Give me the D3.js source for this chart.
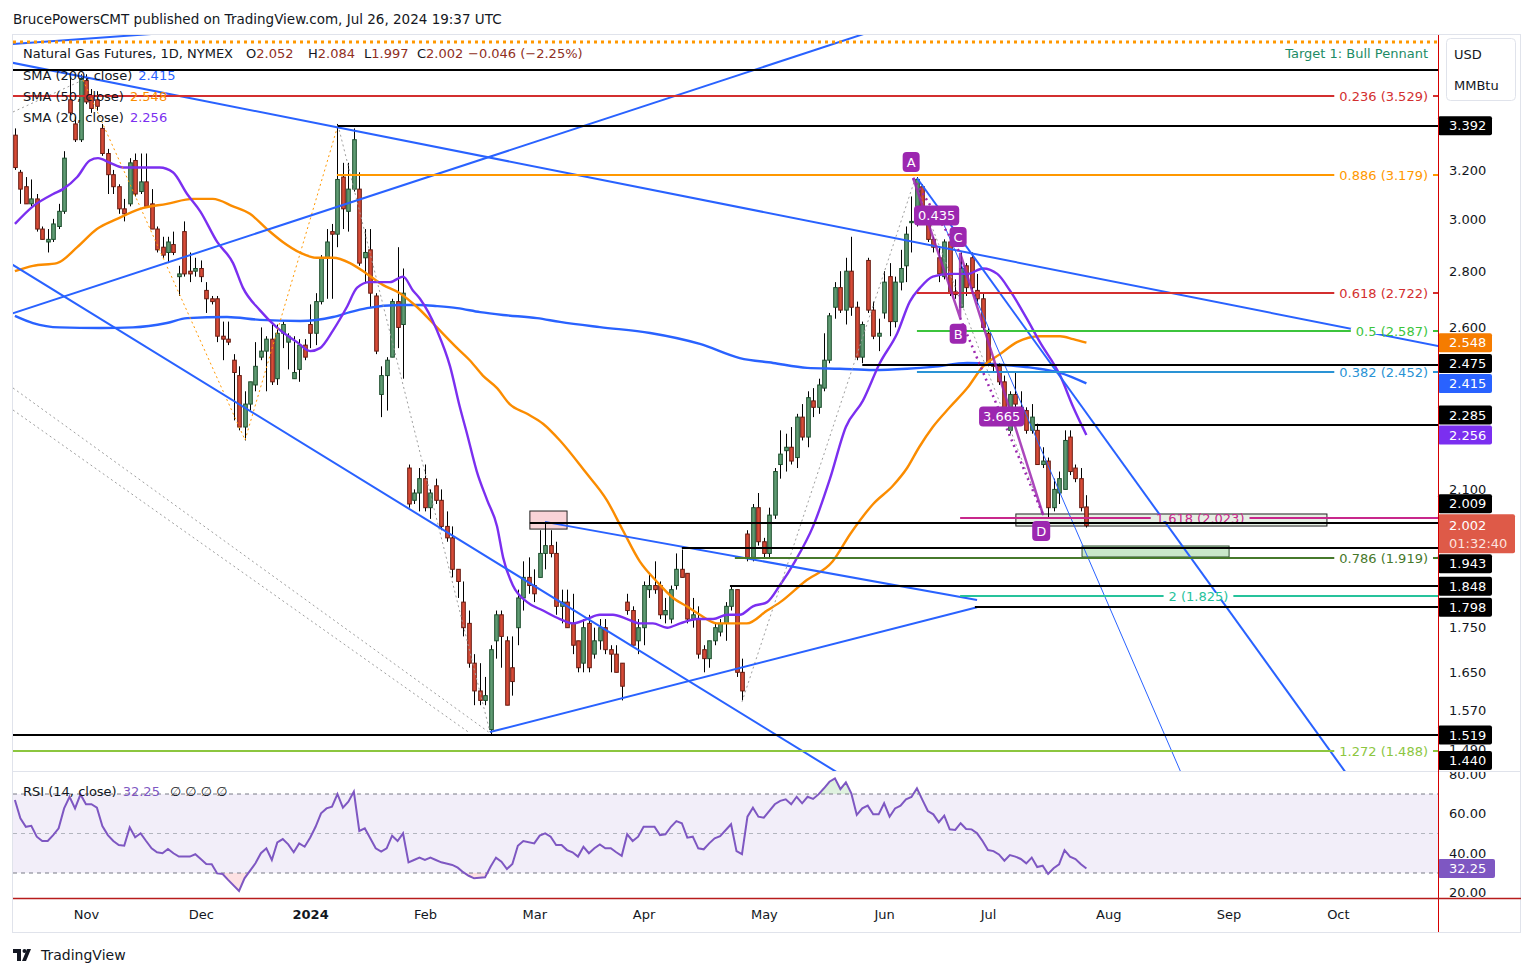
<!DOCTYPE html>
<html>
<head>
<meta charset="utf-8">
<script src="https://cdn.jsdelivr.net/npm/d3@7"></script>
<style>
  body { margin: 0; background: #fff; }
  svg text { font-family: 'DejaVu Sans', sans-serif; }
</style>
</head>
<body>
<div id="chart"></div>
<script>
// ---- data ----
const firstBarDate = "2023-10-13";
const lastAxisDate = "2024-10-31";
const holidays = ["2023-11-23", "2023-12-25", "2024-01-01", "2024-01-15", "2024-02-19",
  "2024-03-29", "2024-05-27", "2024-06-19", "2024-07-04", "2024-09-02"];

// daily candles [open, high, low, close]
const ohlc = [
  [3.35,3.38,3.20,3.21],[3.19,3.20,3.06,3.12],[3.13,3.17,3.06,3.06],[3.06,3.16,3.05,3.08],[3.08,3.10,2.95,2.96],
  [2.96,2.97,2.92,2.92],[2.91,2.96,2.87,2.92],[2.92,3.00,2.91,2.98],[2.97,3.06,2.96,3.03],[3.03,3.28,3.02,3.25],
  [3.51,3.62,3.44,3.45],[3.40,3.43,3.32,3.33],[3.33,3.63,3.32,3.61],[3.60,3.63,3.49,3.50],[3.53,3.56,3.45,3.47],
  [3.51,3.55,3.46,3.48],[3.38,3.40,3.26,3.27],[3.27,3.29,3.10,3.18],[3.18,3.20,3.10,3.13],[3.13,3.14,3.02,3.04],
  [3.04,3.08,2.99,3.02],[3.06,3.25,3.05,3.23],[3.24,3.27,3.09,3.10],[3.11,3.27,3.10,3.15],[3.15,3.27,3.05,3.05],
  [3.06,3.12,2.96,2.96],[2.96,2.97,2.87,2.88],[2.89,2.93,2.85,2.86],[2.87,2.93,2.83,2.91],[2.90,2.95,2.86,2.87],
  [2.78,2.82,2.71,2.79],[2.95,2.99,2.78,2.79],[2.80,2.87,2.76,2.79],[2.80,2.85,2.78,2.81],[2.81,2.84,2.76,2.78],
  [2.73,2.76,2.65,2.70],[2.70,2.71,2.68,2.69],[2.70,2.71,2.55,2.57],[2.57,2.62,2.49,2.56],[2.56,2.62,2.54,2.55],
  [2.49,2.51,2.30,2.45],[2.44,2.47,2.27,2.28],[2.28,2.39,2.24,2.35],[2.35,2.42,2.33,2.42],[2.41,2.55,2.39,2.47],
  [2.50,2.60,2.49,2.52],[2.52,2.57,2.39,2.56],[2.56,2.61,2.41,2.42],[2.43,2.61,2.41,2.58],[2.58,2.62,2.53,2.61],
  [2.55,2.58,2.46,2.57],[2.43,2.57,2.43,2.45],[2.46,2.56,2.42,2.54],[2.54,2.56,2.49,2.50],[2.61,2.68,2.53,2.58],
  [2.58,2.72,2.54,2.69],[2.69,2.86,2.68,2.85],[2.85,2.96,2.70,2.91],[2.95,2.98,2.70,2.94],[2.94,3.40,2.89,3.16],
  [3.17,3.23,2.96,3.04],[3.03,3.23,2.95,3.12],[3.12,3.38,3.11,3.33],[3.12,3.19,2.82,2.83],[2.85,2.96,2.76,2.87],
  [2.88,2.96,2.67,2.72],[2.71,2.72,2.51,2.52],[2.38,2.47,2.31,2.44],[2.44,2.50,2.33,2.49],[2.50,2.70,2.50,2.69],
  [2.69,2.89,2.53,2.60],[2.61,2.81,2.43,2.72],[2.16,2.17,2.05,2.06],[2.07,2.10,2.06,2.09],[2.09,2.16,2.04,2.13],
  [2.13,2.17,2.04,2.05],[2.05,2.10,2.02,2.09],[2.11,2.13,2.06,2.07],[2.07,2.10,1.99,2.00],[2.00,2.04,1.96,1.97],
  [1.97,2.00,1.87,1.89],[1.89,1.89,1.82,1.86],[1.81,1.86,1.73,1.75],[1.76,1.79,1.66,1.67],[1.67,1.69,1.58,1.61],
  [1.61,1.67,1.58,1.59],[1.59,1.64,1.58,1.60],[1.53,1.71,1.52,1.70],[1.72,1.79,1.68,1.78],[1.78,1.79,1.66,1.73],
  [1.72,1.73,1.58,1.58],[1.66,1.73,1.60,1.63],[1.75,1.84,1.71,1.82],[1.82,1.91,1.79,1.87],[1.87,1.92,1.83,1.85],
  [1.85,1.89,1.81,1.83],[1.87,1.99,1.87,1.93],[1.93,2.01,1.89,1.95],[1.95,1.99,1.92,1.93],[1.93,1.96,1.78,1.80],
  [1.80,1.84,1.76,1.81],[1.81,1.84,1.75,1.75],[1.76,1.83,1.69,1.71],[1.72,1.72,1.65,1.66],[1.67,1.77,1.65,1.75],
  [1.76,1.78,1.65,1.66],[1.69,1.75,1.68,1.72],[1.72,1.77,1.70,1.75],[1.75,1.77,1.69,1.70],[1.70,1.71,1.65,1.69],
  [1.69,1.71,1.65,1.65],[1.67,1.67,1.59,1.62],[1.81,1.83,1.78,1.79],[1.79,1.80,1.71,1.71],[1.72,1.77,1.69,1.75],
  [1.75,1.86,1.71,1.85],[1.84,1.88,1.82,1.85],[1.85,1.91,1.83,1.84],[1.85,1.86,1.77,1.78],[1.78,1.82,1.76,1.79],
  [1.77,1.85,1.76,1.84],[1.85,1.93,1.84,1.89],[1.89,1.94,1.87,1.87],[1.88,1.88,1.76,1.77],[1.77,1.82,1.75,1.78],
  [1.77,1.80,1.68,1.69],[1.70,1.71,1.65,1.68],[1.68,1.72,1.66,1.72],[1.72,1.76,1.71,1.75],[1.74,1.77,1.73,1.76],
  [1.76,1.81,1.72,1.80],[1.80,1.85,1.79,1.84],[1.84,1.84,1.64,1.65],[1.65,1.68,1.59,1.61],[1.98,1.99,1.91,1.92],
  [1.92,2.06,1.91,2.05],[2.05,2.09,1.95,1.96],[1.96,1.97,1.92,1.93],[1.93,2.05,1.92,2.03],[2.03,2.16,2.02,2.15],
  [2.17,2.27,2.13,2.20],[2.21,2.26,2.15,2.22],[2.22,2.28,2.17,2.18],[2.19,2.32,2.16,2.31],[2.31,2.35,2.24,2.25],
  [2.25,2.39,2.22,2.37],[2.36,2.40,2.31,2.34],[2.34,2.43,2.32,2.41],[2.40,2.58,2.39,2.49],[2.49,2.65,2.48,2.64],
  [2.67,2.76,2.63,2.74],[2.74,2.80,2.65,2.66],[2.66,2.85,2.61,2.80],[2.80,2.93,2.64,2.67],[2.67,2.69,2.49,2.50],
  [2.50,2.62,2.48,2.61],[2.84,2.85,2.65,2.66],[2.66,2.69,2.56,2.57],[2.57,2.63,2.52,2.58],[2.65,2.80,2.63,2.76],
  [2.78,2.83,2.57,2.62],[2.62,2.78,2.60,2.76],[2.76,2.88,2.73,2.81],[2.82,2.97,2.76,2.94],[2.985,3.09,2.87,2.99],
  [2.98,3.17,2.97,3.16],[3.13,3.14,3.02,3.03],[3.03,3.04,2.91,2.92],[2.92,2.93,2.87,2.89],[2.85,2.89,2.76,2.79],
  [2.78,2.92,2.77,2.91],[2.91,2.95,2.71,2.72],[2.725,2.77,2.70,2.715],[2.67,2.87,2.67,2.81],[2.82,2.83,2.71,2.74],
  [2.85,2.87,2.72,2.74],[2.73,2.79,2.68,2.70],[2.70,2.72,2.59,2.60],[2.58,2.60,2.47,2.48],[2.48,2.48,2.45,2.47],
  [2.47,2.48,2.41,2.42],[2.42,2.44,2.32,2.33],[2.27,2.39,2.26,2.38],[2.38,2.45,2.34,2.35],[2.34,2.39,2.32,2.33],
  [2.33,2.34,2.26,2.27],[2.27,2.35,2.26,2.31],[2.27,2.29,2.17,2.17],[2.17,2.22,2.16,2.18],[2.18,2.19,2.02,2.05],
  [2.05,2.13,2.04,2.10],[2.09,2.15,2.06,2.13],[2.10,2.27,2.10,2.24],[2.25,2.27,2.14,2.15],[2.16,2.17,2.12,2.13],
  [2.13,2.16,2.04,2.05],[2.052,2.084,1.997,2.002]
];
const lastChange = -0.046;
const lastChangePct = -2.25;

// moving averages, [bar index, value] read at points along each curve
const sma20 = [[0,2.98],[3.3,3.05],[7,3.10],[8.8,3.12],[11.4,3.17],[13.7,3.24],[15.2,3.25],[17.4,3.23],[19.8,3.21],
  [23.4,3.21],[26.5,3.21],[28.9,3.19],[31.5,3.10],[33.9,3.03],[37,2.91],[39.9,2.83],[41.7,2.74],[44.8,2.66],
  [47.9,2.60],[51.6,2.55],[54,2.52],[55.8,2.53],[58.2,2.59],[60.7,2.67],[62.6,2.74],[64.9,2.76],[68.6,2.76],
  [71,2.78],[72.8,2.73],[74.1,2.70],[77.2,2.59],[79.6,2.47],[81.4,2.34],[82.7,2.26],[84.5,2.15],[86.4,2.07],
  [88.2,2.00],[89.3,1.92],[91.1,1.85],[93.7,1.81],[96.6,1.79],[99.7,1.77],[102.1,1.76],[104.6,1.77],[107,1.78],
  [109.4,1.78],[112,1.77],[114.3,1.76],[116.7,1.76],[119.3,1.75],[121.7,1.76],[124.8,1.77],[127.7,1.77],
  [130.3,1.78],[132.6,1.78],[135,1.80],[137.6,1.81],[139.9,1.85],[142.7,1.91],[146,2.00],[149.1,2.13],[152,2.28],
  [155.1,2.36],[158.2,2.48],[161.4,2.58],[163.7,2.69],[165.6,2.74],[167.9,2.78],[171,2.79],[174.2,2.79],
  [177.1,2.81],[179.7,2.79],[182,2.73],[185.1,2.63],[187.5,2.55],[191.2,2.44],[193.6,2.34],[196,2.256]];
const sma50 = [[0,2.80],[3.3,2.82],[7.7,2.83],[11.4,2.89],[15,2.96],[18.7,3.00],[22.9,3.04],[27.8,3.06],[32.6,3.08],
  [36.2,3.08],[39.9,3.05],[43,3.02],[46.1,2.96],[49,2.91],[52.1,2.87],[55.2,2.85],[58.2,2.85],[61.3,2.83],
  [64.4,2.79],[67.3,2.75],[70.4,2.72],[73.6,2.67],[77.2,2.60],[80.9,2.53],[83.2,2.49],[85.6,2.44],[88.2,2.40],
  [90.5,2.35],[93.7,2.32],[96.6,2.29],[99.7,2.24],[104.3,2.15],[108.3,2.07],[111.2,1.99],[114.3,1.91],
  [117.4,1.86],[120.4,1.82],[122.9,1.80],[125.3,1.78],[128.4,1.76],[131.4,1.76],[133.9,1.76],[137.6,1.79],
  [140,1.81],[144.5,1.86],[149.6,1.91],[152.8,1.98],[157,2.06],[160.6,2.11],[163.2,2.16],[165.4,2.22],
  [167.9,2.28],[171,2.34],[174.2,2.40],[177.1,2.47],[180.2,2.51],[183.3,2.55],[187.5,2.57],[191.2,2.57],
  [193.6,2.56],[196,2.548]];
const sma200 = [[0,2.64],[3.3,2.615],[8.2,2.60],[15.6,2.598],[21.6,2.60],[27.8,2.615],[31.5,2.632],[38.8,2.636],
  [44.8,2.626],[52.2,2.622],[58.2,2.636],[61.3,2.653],[64.4,2.667],[70.4,2.678],[74.1,2.678],[77.2,2.674],
  [80.9,2.667],[85.1,2.653],[89.3,2.643],[95.5,2.632],[99.7,2.619],[107,2.601],[116.2,2.581],[125.3,2.544],
  [132.6,2.497],[138.7,2.481],[144.9,2.465],[150.9,2.462],[157,2.458],[163.2,2.462],[167.9,2.468],
  [174.2,2.481],[180.2,2.475],[186.2,2.465],[191.2,2.449],[196,2.415]];

// RSI(14) [bar index, value]
const rsi = [[0,67],[1,57.7],[2,53.4],[3,53.9],[4,48.4],[5,46.2],[6,46.2],[7,49.2],[8,52.6],[9,62.7],[10,68.6],
  [11,62.7],[12,69.8],[13,64.8],[14,64.8],[15,63.1],[16,53.8],[17,49.2],[18,46.2],[19,44.2],[20,43.8],[21,53.1],
  [22,48.1],[23,50.1],[24,46.2],[25,42.5],[26,40.5],[27,40.0],[28,42.2],[29,40.0],[30,38.3],[31,38.3],[32,38.3],
  [33,39.5],[34,37.1],[35,34.6],[36,34.4],[37,29.8],[38,29.5],[39,26.5],[41,20.9],[42,27.3],[44,34.9],[45,40.0],
  [46,42.5],[47,36.6],[48,45.5],[49,47.2],[50,44.5],[51,40.5],[52,45.0],[53,43.3],[54,47.9],[55,53.4],[56,60.2],
  [57,62.7],[58,63.6],[59,70.0],[60,63.1],[61,66.1],[62,71.2],[63,51.3],[64,52.6],[65,47.6],[66,42.5],[67,40.8],
  [68,42.5],[69,48.9],[70,46.2],[71,50.1],[72,35.4],[73,36.6],[74,37.8],[75,36.6],[76,37.8],[77,36.6],[78,35.4],
  [80,34.1],[81,32.7],[82,30.4],[83,28.6],[84,27.3],[86,27.8],[87,33.2],[88,37.8],[89,35.7],[90,32.0],[91,34.6],
  [92,43.8],[93,46.2],[95,45.0],[96,48.9],[97,50.1],[98,48.4],[99,44.2],[100,44.2],[101,41.6],[102,40.5],
  [103,38.3],[104,43.3],[105,40.0],[106,42.5],[107,44.5],[108,42.5],[109,42.5],[110,40.5],[111,38.7],[112,49.6],
  [113,46.2],[114,48.4],[115,53.4],[117,53.4],[118,49.2],[119,49.6],[120,53.4],[121,56.3],[122,55.2],[123,47.9],
  [124,48.4],[125,42.5],[126,42.0],[127,45.0],[128,47.6],[129,48.7],[131,54.7],[132,41.1],[133,39.5],[134,58.5],
  [135,63.1],[136,58.5],[137,58.0],[139,64.8],[140,66.5],[141,67.3],[142,64.8],[143,68.6],[144,65.3],[145,68.6],
  [146,67.5],[147,69.8],[148,72.9],[149,76.2],[150,77.9],[151,72.5],[152,75.9],[153,70.3],[154,59.4],[155,62.7],
  [156,64.1],[157,59.7],[158,59.7],[159,65.3],[160,58.5],[161,62.7],[162,64.1],[163,67.3],[164,68.5],[165,72.9],
  [166,67.0],[167,61.4],[168,59.7],[169,55.7],[170,59.0],[171,52.1],[172,51.8],[173,55.2],[174,52.3],[175,52.1],
  [176,50.1],[177,46.2],[178,41.6],[179,41.1],[180,39.4],[181,36.2],[182,39.1],[183,38.3],[184,37.1],[185,34.9],
  [186,37.8],[187,33.0],[188,33.7],[189,29.5],[190,32.4],[191,34.4],[192,41.6],[193,38.3],[194,37.1],[195,34.4],
  [196,32.25]];

// price axis ticks (the ones not hidden behind label boxes) and boxed labels
const priceTicks = [3.2, 3.0, 2.8, 2.6, 2.1, 1.75, 1.65, 1.57, 1.49];
const boxPrices = [3.392, 2.548, 2.475, 2.415, 2.285, 2.256, 2.009, 1.943, 1.848, 1.798, 1.519, 1.440];
const boxKinds  = ["line", "sma50", "line", "sma200", "line", "sma20", "line", "line", "line", "line", "line", "line"];
const lastPrice = 2.002;
const countdown = "01:32:40";
const rsiTicks = [80, 60, 40, 20];
const rsiLast = 32.25;

// horizontal levels: price, first bar index (null = whole pane), kind, label
const levelPrice = [3.788, 3.65, 3.529, 3.392, 3.179, 2.722, 2.587, 2.475, 2.452, 2.285, 2.023, 2.009, 1.943, 1.919, 1.848, 1.825, 1.798, 1.519, 1.488];
const levelFrom  = [null, null, null, 59.1, 58.9, 165, 165, 155, 165, 186.6, 172.9, 94.2, 122, 131.7, 130.8, 172.9, 175.6, null, null];
const levelKind  = ["target", "line", "f236", "line", "f886", "f618", "f5", "line", "f382", "line", "f1618", "line", "line", "f786", "line", "f2", "line", "line", "f1272"];
const levelLabel = ["Target 1: Bull Pennant", "", "0.236 (3.529)", "", "0.886 (3.179)", "0.618 (2.722)", "0.5 (2.587)", "",
  "0.382 (2.452)", "", "1.618 (2.023)", "", "", "0.786 (1.919)", "", "2 (1.825)", "", "", "1.272 (1.488)"];
const levelLabelAt = [null, null, null, null, null, null, null, null, null, null, 216.8, null, null, null, null, 216.5, null, null, null];

// trend lines: two anchors [bar index, price] and how they extend
const trendFrom = [[-0.35,2.649],[-0.35,3.685],[-0.35,3.778],[-0.35,2.823],[86.9,1.525],[96.96,2.012],[165,3.166],[169.8,2.984]];
const trendTo   = [[154.7,3.823],[260.3,2.537],[27.45,3.833],[150,1.4487],[176,1.798],[176,1.815],[243.1,1.4506],[213.1,1.4506]];
const trendExtend = ["both", "both", "both", "both", "none", "none", "right", "right"];
const trendThin = [false, false, false, false, false, false, false, true];

// dotted swing connectors
const grayDots = [[[-0.35,3.454],[12.46,3.603]], [[59.1,3.395],[86.9,1.525]], [[133,1.587],[164.6,3.158]],
  [[164.3,3.166],[188.1,2.030]], [[-0.35,2.4005],[86.9,1.5231]], [[-0.35,2.3318],[83.2,1.5231]]];
const orangeDots = [[[12.46,3.603],[42.1,2.2413]], [[42.1,2.2413],[59.1,3.395]]];

// ABCD pattern
const abcdName = ["A", "B", "C", "D"];
const abcdPts = [[164.3,3.166],[172.9,2.633],[172.9,2.868],[188.1,2.030]];
const abcdRatios = ["0.435", "3.665"];

// zones [fromIdx, toIdx, top price, bottom price]
const zones = [[94.2,101,2.041,1.993],[183.1,240,2.033,2.001],[195.2,222.1,1.949,1.921]];
const zoneKind = ["pink", "grey", "green"];

// ---- layout ----
const W = 1533, H = 977;
const L = 13, R = 1438, PT = 35, PB = 771, RT = 772, RB = 898, AB = 932;
const FONT = "'DejaVu Sans', sans-serif";
const C = {
  up: "#5f9b73", upB: "#1b4d2b", dn: "#d74b37", dnB: "#661a0f",
  sma20: "#7b2ff0", sma50: "#fb8c00", sma200: "#2962ff", rsi: "#7e57c2",
  trend: "#2962ff", purple: "#9c27b0", red: "#de5a48", text: "#131722"
};
const levelStyle = {
  target: { c: "#ff9800", w: 3, dash: "3,4", text: "#1c8b65" },
  line: { c: "#000", w: 2 },
  f236: { c: "#d32f2f", w: 2 }, f886: { c: "#ff9800", w: 2 }, f618: { c: "#d32f2f", w: 2 },
  f5: { c: "#3cc43c", w: 2 }, f382: { c: "#2a93d5", w: 2 }, f1618: { c: "#c8288c", w: 2 },
  f786: { c: "#46782b", w: 2 }, f2: { c: "#26c29b", w: 2 }, f1272: { c: "#8cc63f", w: 2 }
};
const boxColor = { line: "#000", sma50: "#f57c00", sma200: "#2962ff", sma20: "#7b2ff0" };

// trading calendar for the time axis
const hol = new Set(holidays);
const fmtDay = d3.utcFormat("%Y-%m-%d");
const days = d3.utcDay.range(new Date(firstBarDate + "T00:00:00Z"), d3.utcDay.offset(new Date(lastAxisDate + "T00:00:00Z"), 1))
  .filter(d => d.getUTCDay() % 6 !== 0 && !hol.has(fmtDay(d)));
const monthIdx = days.map((d, i) => i).filter(i => i > 0 && days[i].getUTCMonth() !== days[i - 1].getUTCMonth());

const x = d3.scaleLinear().domain([0, ohlc.length - 1]).range([14.9, 1086.4]);
const y = d3.scaleLog().domain([1.4487, 3.823]).range([PB, PT]);
const yR = d3.scaleLinear().domain([20, 80]).range([892.75, 774.25]);

const svg = d3.select("#chart").append("svg").attr("width", W).attr("height", H).style("font-family", FONT);
svg.append("rect").attr("width", W).attr("height", H).attr("fill", "#fff");
const defs = svg.append("defs");
defs.append("clipPath").attr("id", "clipP").append("rect").attr("x", L).attr("y", PT).attr("width", R - L).attr("height", PB - PT);
defs.append("clipPath").attr("id", "clipR").append("rect").attr("x", L).attr("y", RT).attr("width", R - L).attr("height", RB - RT);
defs.append("clipPath").attr("id", "clipOB").append("rect").attr("x", L).attr("y", RT).attr("width", R - L).attr("height", yR(70) - RT);
defs.append("clipPath").attr("id", "clipOS").append("rect").attr("x", L).attr("y", yR(30)).attr("width", R - L).attr("height", RB - yR(30));
defs.append("clipPath").attr("id", "clipRA").append("rect").attr("x", R).attr("y", RT).attr("width", 90).attr("height", RB - RT);

// header
svg.append("text").attr("x", 13).attr("y", 24).attr("font-size", 13.5).attr("fill", C.text)
  .text("BrucePowersCMT published on TradingView.com, Jul 26, 2024 19:37 UTC");

// frame
svg.append("rect").attr("x", 12.5).attr("y", 34.5).attr("width", 1508).attr("height", 898)
  .attr("fill", "none").attr("stroke", "#e0e3eb");
svg.append("line").attr("x1", L).attr("x2", 1521).attr("y1", 771.5).attr("y2", 771.5).attr("stroke", "#e0e3eb");

// ---- price pane ----
const gP = svg.append("g").attr("clip-path", "url(#clipP)");
const px = d => x(d[0]), py = d => y(d[1]);

// zones
const zoneStyle = { pink: ["#f9d3d7", "#222"], grey: ["#e6efe4", "#222"], green: ["#c9e7c9", "#2e4d2e"] };
zones.forEach((z, i) => {
  gP.append("rect").attr("x", x(z[0])).attr("y", y(z[2])).attr("width", x(z[1]) - x(z[0])).attr("height", y(z[3]) - y(z[2]))
    .attr("fill", zoneStyle[zoneKind[i]][0]).attr("stroke", zoneStyle[zoneKind[i]][1]).attr("stroke-width", 1);
});

// candles
const cg = gP.append("g");
ohlc.forEach((d, i) => {
  const up = d[3] >= d[0];
  const cx = Math.round(x(i)) + 0.5;
  cg.append("line").attr("x1", cx).attr("x2", cx).attr("y1", y(d[1])).attr("y2", y(d[2])).attr("stroke", "#000").attr("stroke-width", 1);
  const top = y(Math.max(d[0], d[3])), bot = y(Math.min(d[0], d[3]));
  cg.append("rect").attr("x", cx - 1.8).attr("y", top).attr("width", 3.6).attr("height", Math.max(1, bot - top))
    .attr("fill", up ? C.up : C.dn).attr("stroke", up ? C.upB : C.dnB).attr("stroke-width", 1);
});

// moving averages
const maLine = d3.line().x(px).y(py).curve(d3.curveMonotoneX);
[[sma200, C.sma200], [sma50, C.sma50], [sma20, C.sma20]].forEach(([s, c]) => {
  gP.append("path").attr("d", maLine(s)).attr("fill", "none").attr("stroke", c).attr("stroke-width", 2.4);
});

// dotted connectors
const seg = d3.line().x(px).y(py);
grayDots.forEach(s => gP.append("path").attr("d", seg(s)).attr("fill", "none").attr("stroke", "#9e9e9e").attr("stroke-width", 1).attr("stroke-dasharray", "2,3"));
orangeDots.forEach(s => gP.append("path").attr("d", seg(s)).attr("fill", "none").attr("stroke", "#ff9800").attr("stroke-width", 1).attr("stroke-dasharray", "2,3"));

// trend lines
trendFrom.forEach((a, i) => {
  const b = trendTo[i];
  let x1 = x(a[0]), y1 = y(a[1]), x2 = x(b[0]), y2 = y(b[1]);
  const dx = x2 - x1, dy = y2 - y1;
  const t0 = trendExtend[i] === "both" ? -20 : 0, t1 = trendExtend[i] === "none" ? 1 : 20;
  gP.append("line").attr("x1", x1 + dx * t0).attr("y1", y1 + dy * t0).attr("x2", x1 + dx * t1).attr("y2", y1 + dy * t1)
    .attr("stroke", C.trend).attr("stroke-width", trendThin[i] ? 1 : 2);
});

// horizontal levels
const gLv = svg.append("g");
levelPrice.forEach((p, i) => {
  const st = levelStyle[levelKind[i]];
  const yy = Math.round(y(p));
  const x0 = levelFrom[i] === null ? L : x(levelFrom[i]);
  gLv.append("line").attr("x1", x0).attr("x2", R).attr("y1", yy).attr("y2", yy)
    .attr("stroke", st.c).attr("stroke-width", st.w).attr("stroke-dasharray", st.dash || null);
  if (!levelLabel[i]) return;
  if (levelKind[i] === "target") {
    gLv.append("text").attr("x", 1428).attr("y", yy + 16).attr("text-anchor", "end").attr("font-size", 13)
      .attr("fill", st.text).text(levelLabel[i]);
    return;
  }
  const t = gLv.append("text").attr("y", yy).attr("dy", "0.35em").attr("font-size", 13).attr("fill", st.c).text(levelLabel[i]);
  if (levelLabelAt[i] === null) t.attr("x", 1428).attr("text-anchor", "end");
  else t.attr("x", x(levelLabelAt[i])).attr("text-anchor", "middle");
  const bb = t.node().getBBox();
  gLv.insert("rect", () => t.node()).attr("x", bb.x - 5).attr("y", yy - 3).attr("width", bb.width + 10).attr("height", 6)
    .attr("fill", levelKind[i] === "f1618" ? "#e6efe4" : "#fff");
});

// ABCD pattern
const gA = svg.append("g");
const ab = abcdPts.map(d => [x(d[0]), y(d[1])]);
gA.append("path").attr("d", d3.line()(ab)).attr("fill", "none").attr("stroke", C.purple).attr("stroke-width", 2.5).attr("opacity", 0.85);
[[0, 2], [1, 3]].forEach(([a, b]) => {
  gA.append("line").attr("x1", ab[a][0]).attr("y1", ab[a][1]).attr("x2", ab[b][0]).attr("y2", ab[b][1])
    .attr("stroke", C.purple).attr("stroke-width", 2.5).attr("stroke-dasharray", "2,4");
});
function tag(cx, cy, txt) {
  const t = gA.append("text").attr("x", cx).attr("y", cy).attr("dy", "0.36em").attr("text-anchor", "middle")
    .attr("font-size", 13).attr("fill", "#fff").text(txt);
  const bb = t.node().getBBox();
  gA.insert("rect", () => t.node()).attr("x", bb.x - 4).attr("y", cy - 10).attr("width", bb.width + 8).attr("height", 20)
    .attr("rx", 4).attr("fill", C.purple);
}
abcdName.forEach((n, i) => tag(ab[i][0] - 2, ab[i][1] + (i % 2 === 0 ? -16 : 16), n));
tag((ab[0][0] + ab[2][0]) / 2, (ab[0][1] + ab[2][1]) / 2, abcdRatios[0]);
tag((ab[1][0] + ab[3][0]) / 2, (ab[1][1] + ab[3][1]) / 2, abcdRatios[1]);

// legend
const lg = svg.append("g").attr("font-size", 13);
const leg1 = lg.append("text").attr("x", 23).attr("y", 58).attr("fill", C.text);
leg1.append("tspan").text("Natural Gas Futures, 1D, NYMEX");
const last = ohlc[ohlc.length - 1];
const valC = "#8f2f23";
[["O", last[0], 246], ["H", last[1], 308], ["L", last[2], 364], ["C", last[3], 417]].forEach(([k, v, xx]) => {
  leg1.append("tspan").attr("x", xx).attr("fill", C.text).text(k);
  leg1.append("tspan").attr("fill", valC).text(v.toFixed(3));
});
const minus = v => (v < 0 ? "\u2212" : "+") + Math.abs(v);
leg1.append("tspan").attr("x", 468).attr("fill", valC)
  .text(minus(lastChange).replace(/(\d)$/, "$1") + " (" + minus(lastChangePct) + "%)");
[["SMA (200, close)", sma200, C.sma200, 80], ["SMA (50, close)", sma50, C.sma50, 101], ["SMA (20, close)", sma20, C.sma20, 122]]
  .forEach(([n, s, c, yy]) => {
    const t = lg.append("text").attr("x", 23).attr("y", yy).attr("fill", C.text);
    t.append("tspan").text(n);
    t.append("tspan").attr("dx", 6).attr("fill", c).text(s[s.length - 1][1].toFixed(3));
  });

// ---- price axis ----
const gAx = svg.append("g").attr("transform", `translate(${R},0)`)
  .call(d3.axisRight(y).tickValues(priceTicks).tickFormat(d3.format(".3f")).tickSize(0).tickPadding(11));
gAx.select(".domain").remove();
gAx.selectAll("text").attr("font-size", 13).attr("fill", C.text).attr("font-family", FONT);

// USD box
svg.append("rect").attr("x", 1446.5).attr("y", 38.5).attr("width", 69).attr("height", 62).attr("rx", 4)
  .attr("fill", "#fff").attr("stroke", "#e0e3eb");
svg.append("text").attr("x", 1454).attr("y", 59).attr("font-size", 13).attr("fill", C.text).text("USD");
svg.append("text").attr("x", 1454).attr("y", 90).attr("font-size", 13).attr("fill", C.text).text("MMBtu");

// boxed labels with simple collision handling around the last-price box
const bh = 19, gap = 1;
const lastTop = y(lastPrice) - 11.5, lastBot = lastTop + 39;
const items = boxPrices.map((p, i) => ({ p, k: boxKinds[i], cy: y(p) }));
const above = items.filter(d => d.cy < (lastTop + lastBot) / 2).sort((a, b) => b.cy - a.cy);
let lim = lastTop - gap;
above.forEach(d => { d.cy = Math.min(d.cy, lim - bh / 2); lim = d.cy - bh / 2 - gap; });
const below = items.filter(d => d.cy >= (lastTop + lastBot) / 2).sort((a, b) => a.cy - b.cy);
lim = lastBot + gap;
below.forEach(d => { d.cy = Math.max(d.cy, lim + bh / 2); lim = d.cy + bh / 2 + gap; });
below.reverse();
lim = PB - gap;
below.forEach(d => { d.cy = Math.min(d.cy, lim - bh / 2); lim = d.cy - bh / 2 - gap; });
const gB = svg.append("g");
items.forEach(d => {
  gB.append("rect").attr("x", R).attr("y", d.cy - bh / 2).attr("width", 54).attr("height", bh).attr("rx", 2).attr("fill", boxColor[d.k]);
  gB.append("text").attr("x", R + 11).attr("y", d.cy).attr("dy", "0.36em").attr("font-size", 13).attr("fill", "#fff").text(d.p.toFixed(3));
});
gB.append("rect").attr("x", R).attr("y", lastTop).attr("width", 77).attr("height", 39).attr("rx", 2).attr("fill", C.red);
gB.append("text").attr("x", R + 11).attr("y", y(lastPrice)).attr("dy", "0.36em").attr("font-size", 13).attr("fill", "#fff").text(lastPrice.toFixed(3));
gB.append("text").attr("x", R + 11).attr("y", y(lastPrice) + 18).attr("dy", "0.36em").attr("font-size", 13).attr("fill", "#fde3df").text(countdown);

// ---- RSI pane ----
const gR = svg.append("g").attr("clip-path", "url(#clipR)");
gR.append("rect").attr("x", L).attr("y", yR(70)).attr("width", R - L).attr("height", yR(30) - yR(70)).attr("fill", C.rsi).attr("opacity", 0.1);
const ob = d3.area().x(px).y0(yR(70)).y1(d => yR(d[1]));
gR.append("path").attr("d", ob(rsi)).attr("fill", "#4caf50").attr("opacity", 0.18).attr("clip-path", "url(#clipOB)");
const os = d3.area().x(px).y0(yR(30)).y1(d => yR(d[1]));
gR.append("path").attr("d", os(rsi)).attr("fill", "#f23645").attr("opacity", 0.15).attr("clip-path", "url(#clipOS)");
[[70, "#787b86"], [50, "#b2b5be"], [30, "#787b86"]].forEach(([v, c]) => {
  gR.append("line").attr("x1", L).attr("x2", R).attr("y1", yR(v)).attr("y2", yR(v)).attr("stroke", c).attr("stroke-dasharray", "4,4");
});
gR.append("path").attr("d", d3.line().x(px).y(d => yR(d[1]))(rsi)).attr("fill", "none").attr("stroke", C.rsi).attr("stroke-width", 2);
const rl = svg.append("text").attr("x", 23).attr("y", 796).attr("font-size", 13).attr("fill", C.text);
rl.append("tspan").text("RSI (14, close)");
rl.append("tspan").attr("dx", 6).attr("fill", C.rsi).text(rsiLast.toFixed(2));
rl.append("tspan").attr("dx", 10).text("\u2205  \u2205  \u2205  \u2205");

const gRA = svg.append("g").attr("clip-path", "url(#clipRA)").append("g").attr("transform", `translate(${R},0)`)
  .call(d3.axisRight(yR).tickValues(rsiTicks).tickFormat(d3.format(".2f")).tickSize(0).tickPadding(11));
gRA.select(".domain").remove();
gRA.selectAll("text").attr("font-size", 13).attr("fill", C.text).attr("font-family", FONT);
svg.append("rect").attr("x", R).attr("y", yR(rsiLast) - 9.5).attr("width", 57).attr("height", 19).attr("rx", 2).attr("fill", C.rsi);
svg.append("text").attr("x", R + 11).attr("y", yR(rsiLast)).attr("dy", "0.36em").attr("font-size", 13).attr("fill", "#fff").text(rsiLast.toFixed(2));

// ---- time axis ----
const gT = svg.append("g").attr("transform", `translate(0,${RB})`)
  .call(d3.axisBottom(x).tickValues(monthIdx).tickSize(0).tickPadding(12)
    .tickFormat(i => days[i].getUTCMonth() === 0 ? d3.utcFormat("%Y")(days[i]) : d3.utcFormat("%b")(days[i])));
gT.select(".domain").remove();
gT.selectAll("text").attr("font-size", 13).attr("fill", C.text).attr("font-family", FONT)
  .attr("font-weight", i => days[i].getUTCMonth() === 0 ? "bold" : null);

// red marker lines
svg.append("line").attr("x1", R + 0.5).attr("x2", R + 0.5).attr("y1", PT).attr("y2", AB).attr("stroke", "#d50000").attr("stroke-width", 1);
svg.append("line").attr("x1", L).attr("x2", 1521).attr("y1", RB + 0.5).attr("y2", RB + 0.5).attr("stroke", "#b71c1c").attr("stroke-width", 1.5);

// footer logo
const lgo = svg.append("g").attr("fill", "#131722");
lgo.append("path").attr("d", "M13,949 h8 v12 h-4 v-8 h-4 z");
lgo.append("circle").attr("cx", 24.5).attr("cy", 951).attr("r", 2);
lgo.append("path").attr("d", "M27,949 h4 l-5,12 h-4 z");
svg.append("text").attr("x", 41).attr("y", 960).attr("font-size", 14).attr("fill", C.text).text("TradingView");
</script>
</body>
</html>
